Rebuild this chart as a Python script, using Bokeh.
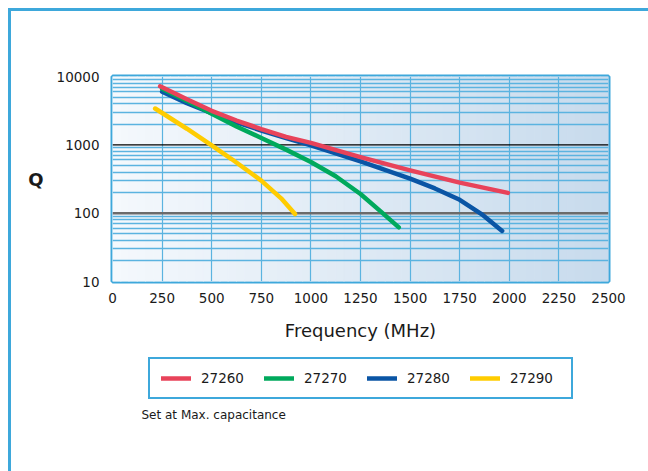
import numpy as np
from bokeh.plotting import figure
from bokeh.layouts import column
from bokeh.models import (FixedTicker, PrintfTickFormatter, Span, Legend, LegendItem,
                          Label, Range1d, ColumnDataSource)
from bokeh.embed import file_html
from bokeh.resources import INLINE

# ---- data ----
freq_27260 = [240, 375, 500, 625, 750, 875, 1000, 1250, 1500, 1750, 1993]
q_27260 = [7200, 4650, 3150, 2270, 1700, 1310, 1070, 660, 423, 280, 198]

freq_27270 = [250, 375, 500, 625, 750, 875, 1000, 1125, 1250, 1350, 1443]
q_27270 = [6600, 4400, 2850, 1860, 1260, 850, 562, 347, 191, 107, 62]

freq_27280 = [250, 375, 500, 625, 750, 875, 1000, 1250, 1500, 1625, 1750, 1860, 1964]
q_27280 = [6000, 4070, 2900, 2140, 1620, 1260, 980, 571, 320, 230, 157, 97, 55]

freq_27290 = [215, 375, 500, 600, 750, 850, 920]
q_27290 = [3400, 1720, 980, 620, 300, 165, 97]

series_names = ["27260", "27270", "27280", "27290"]
series_colors = ["#e8435a", "#00a95c", "#0a55a5", "#ffcc00"]

x_ticks = [0, 250, 500, 750, 1000, 1250, 1500, 1750, 2000, 2250, 2500]
y_ticks = [10, 100, 1000, 10000]
y_minor = [m * d for d in (10, 100, 1000) for m in range(2, 10)]

note_text = "Set at Max. capacitance"

FONT = "DejaVu Sans"
BLUE = "#3ea8db"
TXT = "#1a1a1a"

p = figure(width=637, height=340, x_range=(0, 2500), y_range=(10, 10000),
           y_axis_type="log", output_backend="svg", toolbar_location=None,
           min_border_left=101, min_border_right=40, min_border_top=65,
           min_border_bottom=70, frame_width=496, frame_height=205)

# background gradient (left pale -> right light blue)
n = 60
edges = np.linspace(p.x_range.start, p.x_range.end, n + 1)
c0 = np.array([245, 249, 253])
c1 = np.array([200, 219, 237])
cols = []
for i in range(n):
    t = i / (n - 1)
    c = (c0 + (c1 - c0) * t).astype(int)
    cols.append("#%02x%02x%02x" % tuple(c))
bg = ColumnDataSource(dict(left=edges[:-1], right=edges[1:],
                           bottom=[p.y_range.start] * n, top=[p.y_range.end] * n, color=cols))
p.quad(left="left", right="right", bottom="bottom", top="top", color="color",
       source=bg, level="image")

# axes
p.xaxis.ticker = FixedTicker(ticks=x_ticks)
p.yaxis.ticker = FixedTicker(ticks=y_ticks, minor_ticks=y_minor)
p.yaxis.formatter = PrintfTickFormatter(format="%d")
for ax in (p.xaxis[0], p.yaxis[0]):
    ax.axis_line_color = None
    ax.major_tick_line_color = None
    ax.minor_tick_line_color = None
    ax.major_label_text_font = FONT
    ax.major_label_text_font_size = "13.5px"
    ax.major_label_text_color = TXT
    ax.axis_label_text_font = FONT
    ax.axis_label_text_color = TXT
p.xaxis.major_label_standoff = 5
p.yaxis.major_label_standoff = 7
p.xaxis.axis_label = "Frequency (MHz)"
p.xaxis.axis_label_text_font_size = "18px"
p.xaxis.axis_label_text_font_style = "normal"
p.xaxis.axis_label_standoff = 14
p.yaxis.axis_label = "Q"
p.yaxis.axis_label_orientation = "horizontal"
p.yaxis.axis_label_text_font_size = "18px"
p.yaxis.axis_label_text_font_style = "bold"
p.yaxis.axis_label_standoff = 10

# grids
p.xgrid.grid_line_color = "#5bb3e0"
p.xgrid.grid_line_width = 1.2
p.ygrid.grid_line_color = None
p.ygrid.minor_grid_line_color = "#5bb3e0"
p.ygrid.minor_grid_line_width = 1.5
p.add_layout(Span(location=y_ticks[1], dimension="width", line_color="#6b6b6b",
                  line_width=2.5, level="underlay"))
p.add_layout(Span(location=y_ticks[2], dimension="width", line_color="#000000",
                  line_width=1.2, level="underlay"))

p.outline_line_color = BLUE
p.outline_line_width = 4
p.outline_line_alpha = 1

# curves (red drawn last, on top)
all_x = [freq_27260, freq_27270, freq_27280, freq_27290]
all_y = [q_27260, q_27270, q_27280, q_27290]
for xs, ys, col in list(zip(all_x, all_y, series_colors))[::-1]:
    p.line(xs, ys, line_color=col, line_width=4.5, line_cap="round", line_join="round")

# ---- legend + note panel (frame aligned with the chart frame) ----
p2 = figure(width=637, height=120, x_range=Range1d(0, 496), y_range=Range1d(120, 0),
            output_backend="svg", toolbar_location=None,
            x_axis_location=None, y_axis_location=None,
            min_border_left=101, min_border_right=40, min_border_top=0,
            min_border_bottom=0, frame_width=496, frame_height=120)
p2.grid.visible = False
p2.outline_line_color = None

items = []
for name, col in zip(series_names, series_colors):
    # swatch-only renderer (a single NaN point draws nothing in the panel)
    r = p2.line(x=np.array([np.nan]), y=np.array([np.nan]), line_color=col,
                line_width=4.5, line_cap="round")
    items.append(LegendItem(label=name, renderers=[r]))

legend = Legend(items=items, orientation="horizontal", location=(36, 72),
                border_line_color=BLUE, border_line_width=2.5, border_line_alpha=1,
                background_fill_color="white", background_fill_alpha=1,
                label_text_font=FONT, label_text_font_size="13.5px",
                label_text_color=TXT, glyph_width=30, glyph_height=16,
                label_height=16, label_width=50,
                label_standoff=10, spacing=13, padding=11, margin=0)
p2.add_layout(legend, "center")

p2.add_layout(Label(x=29, y=63, text=note_text, text_font=FONT,
                    text_font_size="12px", text_color=TXT, text_baseline="middle"))

layout = column(p, p2, spacing=0,
                styles={"margin-left": "8px", "margin-top": "8px",
                        "border-left": "3px solid " + BLUE,
                        "border-top": "3px solid " + BLUE})

open("out.html", "w").write(file_html(layout, INLINE))
